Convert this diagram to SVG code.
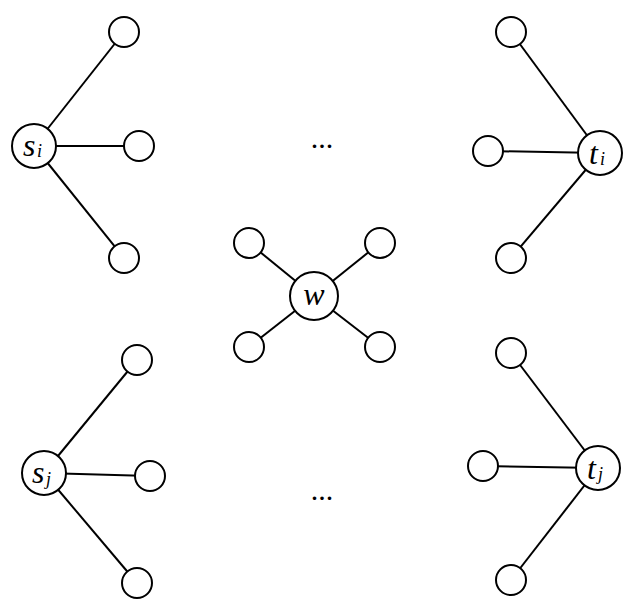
<svg xmlns="http://www.w3.org/2000/svg" width="640" height="610" viewBox="0 0 640 610">
<style>
.n{fill:#fff;stroke:#000;stroke-width:2}
.e{stroke:#000;stroke-width:2}
.l{font-family:"Liberation Serif","DejaVu Serif",serif;font-style:italic;font-size:32px}
.s{font-family:"Liberation Serif","DejaVu Serif",serif;font-style:italic;font-size:18px}
.d{font-family:"Liberation Serif","DejaVu Serif",serif;font-size:30px}
</style>
<rect width="640" height="610" fill="#fff"/>
<g id="edges">
<line class="e" x1="34" y1="146" x2="124" y2="32"/><line class="e" x1="34" y1="146" x2="139" y2="146"/><line class="e" x1="34" y1="146" x2="124" y2="258"/>
<line class="e" x1="600" y1="153" x2="511" y2="32"/><line class="e" x1="600" y1="153" x2="488" y2="151"/><line class="e" x1="600" y1="153" x2="511" y2="258"/>
<line class="e" x1="314" y1="296" x2="249" y2="243"/><line class="e" x1="314" y1="296" x2="380" y2="243"/><line class="e" x1="314" y1="296" x2="249" y2="347"/><line class="e" x1="314" y1="296" x2="380" y2="347"/>
<line class="e" x1="44" y1="473" x2="137" y2="360"/><line class="e" x1="44" y1="473" x2="150" y2="476"/><line class="e" x1="44" y1="473" x2="137" y2="583"/>
<line class="e" x1="598" y1="468" x2="511" y2="353"/><line class="e" x1="598" y1="468" x2="483" y2="466"/><line class="e" x1="598" y1="468" x2="511" y2="580"/>
</g>
<g id="si"><circle class="n" cx="34" cy="146" r="22"/><text x="23" y="156" class="l">s</text><text x="37" y="157" class="s">i</text></g>
<g id="ti"><circle class="n" cx="600" cy="153" r="22"/><text x="589" y="164" class="l">t</text><text x="600" y="165" class="s">i</text></g>
<g id="w"><circle class="n" cx="314" cy="296" r="24"/><text x="314" y="305" class="l" text-anchor="middle">w</text></g>
<g id="sj"><circle class="n" cx="44" cy="473" r="22"/><text x="32" y="483" class="l">s</text><text x="46" y="485" class="s">j</text></g>
<g id="tj"><circle class="n" cx="598" cy="468" r="22"/><text x="587" y="479" class="l">t</text><text x="598" y="480" class="s">j</text></g>
<g id="leaves">
<circle class="n" cx="124" cy="32" r="15"/><circle class="n" cx="139" cy="146" r="15"/><circle class="n" cx="124" cy="258" r="15"/>
<circle class="n" cx="511" cy="32" r="15"/><circle class="n" cx="488" cy="151" r="15"/><circle class="n" cx="511" cy="258" r="15"/>
<circle class="n" cx="249" cy="243" r="15"/><circle class="n" cx="380" cy="243" r="15"/><circle class="n" cx="249" cy="347" r="15"/><circle class="n" cx="380" cy="347" r="15"/>
<circle class="n" cx="137" cy="360" r="15"/><circle class="n" cx="150" cy="476" r="15"/><circle class="n" cx="137" cy="583" r="15"/>
<circle class="n" cx="511" cy="353" r="15"/><circle class="n" cx="483" cy="466" r="15"/><circle class="n" cx="511" cy="580" r="15"/>
</g>
<text class="d" x="322" y="148" text-anchor="middle">...</text>
<text class="d" x="322" y="500" text-anchor="middle">...</text>
</svg>
